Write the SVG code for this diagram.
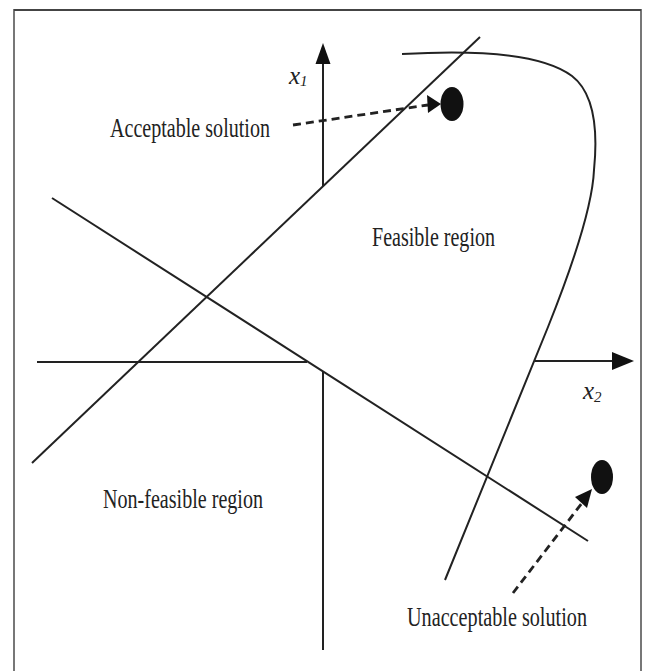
<svg xmlns="http://www.w3.org/2000/svg" width="647" height="671" viewBox="0 0 647 671">
<style>
.ln{stroke:#222;stroke-width:2;fill:none;stroke-linecap:butt}
.dash{stroke:#222;stroke-width:2.8;fill:none;stroke-dasharray:8,5}
.lbl{font-family:"Liberation Serif","Times New Roman",serif;font-size:27px;fill:#222}
.ax{font-family:"Liberation Serif","Times New Roman",serif;font-size:25px;font-style:italic;fill:#222}
.sub{font-family:"Liberation Serif","Times New Roman",serif;font-size:15px;font-style:italic;fill:#222}
.dot{fill:#111}
.head{fill:#111}
</style>
<rect x="0" y="0" width="647" height="671" fill="#fff"/>
<g id="frame">
<path d="M14,672 V10 H641 V672" fill="none" stroke="#777" stroke-width="2"/>
<line x1="14" y1="10" x2="641" y2="10" stroke="#444" stroke-width="2"/>
</g>
<g id="connectors">
<line class="ln" x1="323" y1="60" x2="323" y2="186"/>
<line class="ln" x1="323" y1="371" x2="323" y2="650"/>
<polygon class="head" points="323,43 315.5,64 330.5,64"/>
<line class="ln" x1="37" y1="362" x2="307" y2="362"/>
<line class="ln" x1="535" y1="361" x2="614" y2="361"/>
<polygon class="head" points="634,361 612,352 612,370"/>
<line class="ln" x1="480" y1="37" x2="32" y2="463"/>
<line class="ln" x1="52" y1="198" x2="588" y2="541"/>
<path class="ln" d="M402,54 C470,50 540,52 572,76 C598,96 597,140 594,170 C592,215 564,287 548,327 L445,580"/>
<line class="dash" x1="293" y1="125" x2="428" y2="105"/>
<polygon class="head" points="441,104 427,95 428,113"/>
<line class="dash" x1="513" y1="593" x2="582" y2="503"/>
<polygon class="head" points="592,489 575,497 587,508"/>
</g>
<g id="acceptable-dot"><ellipse class="dot" cx="452" cy="104" rx="11.5" ry="17"/></g>
<g id="unacceptable-dot"><ellipse class="dot" cx="602" cy="477" rx="11" ry="17"/></g>
<g id="x1-label"><text class="ax" x="289" y="84">x<tspan class="sub" dy="2">1</tspan></text></g>
<g id="x2-label"><text class="ax" x="583" y="399">x<tspan class="sub" dy="3">2</tspan></text></g>
<g id="acceptable-label"><text class="lbl" x="110" y="137" textLength="160" lengthAdjust="spacingAndGlyphs">Acceptable solution</text></g>
<g id="feasible-label"><text class="lbl" x="372" y="246" textLength="123" lengthAdjust="spacingAndGlyphs">Feasible region</text></g>
<g id="nonfeasible-label"><text class="lbl" x="103" y="508" textLength="160" lengthAdjust="spacingAndGlyphs">Non-feasible region</text></g>
<g id="unacceptable-label"><text class="lbl" x="407" y="626" textLength="180" lengthAdjust="spacingAndGlyphs">Unacceptable solution</text></g>
</svg>
